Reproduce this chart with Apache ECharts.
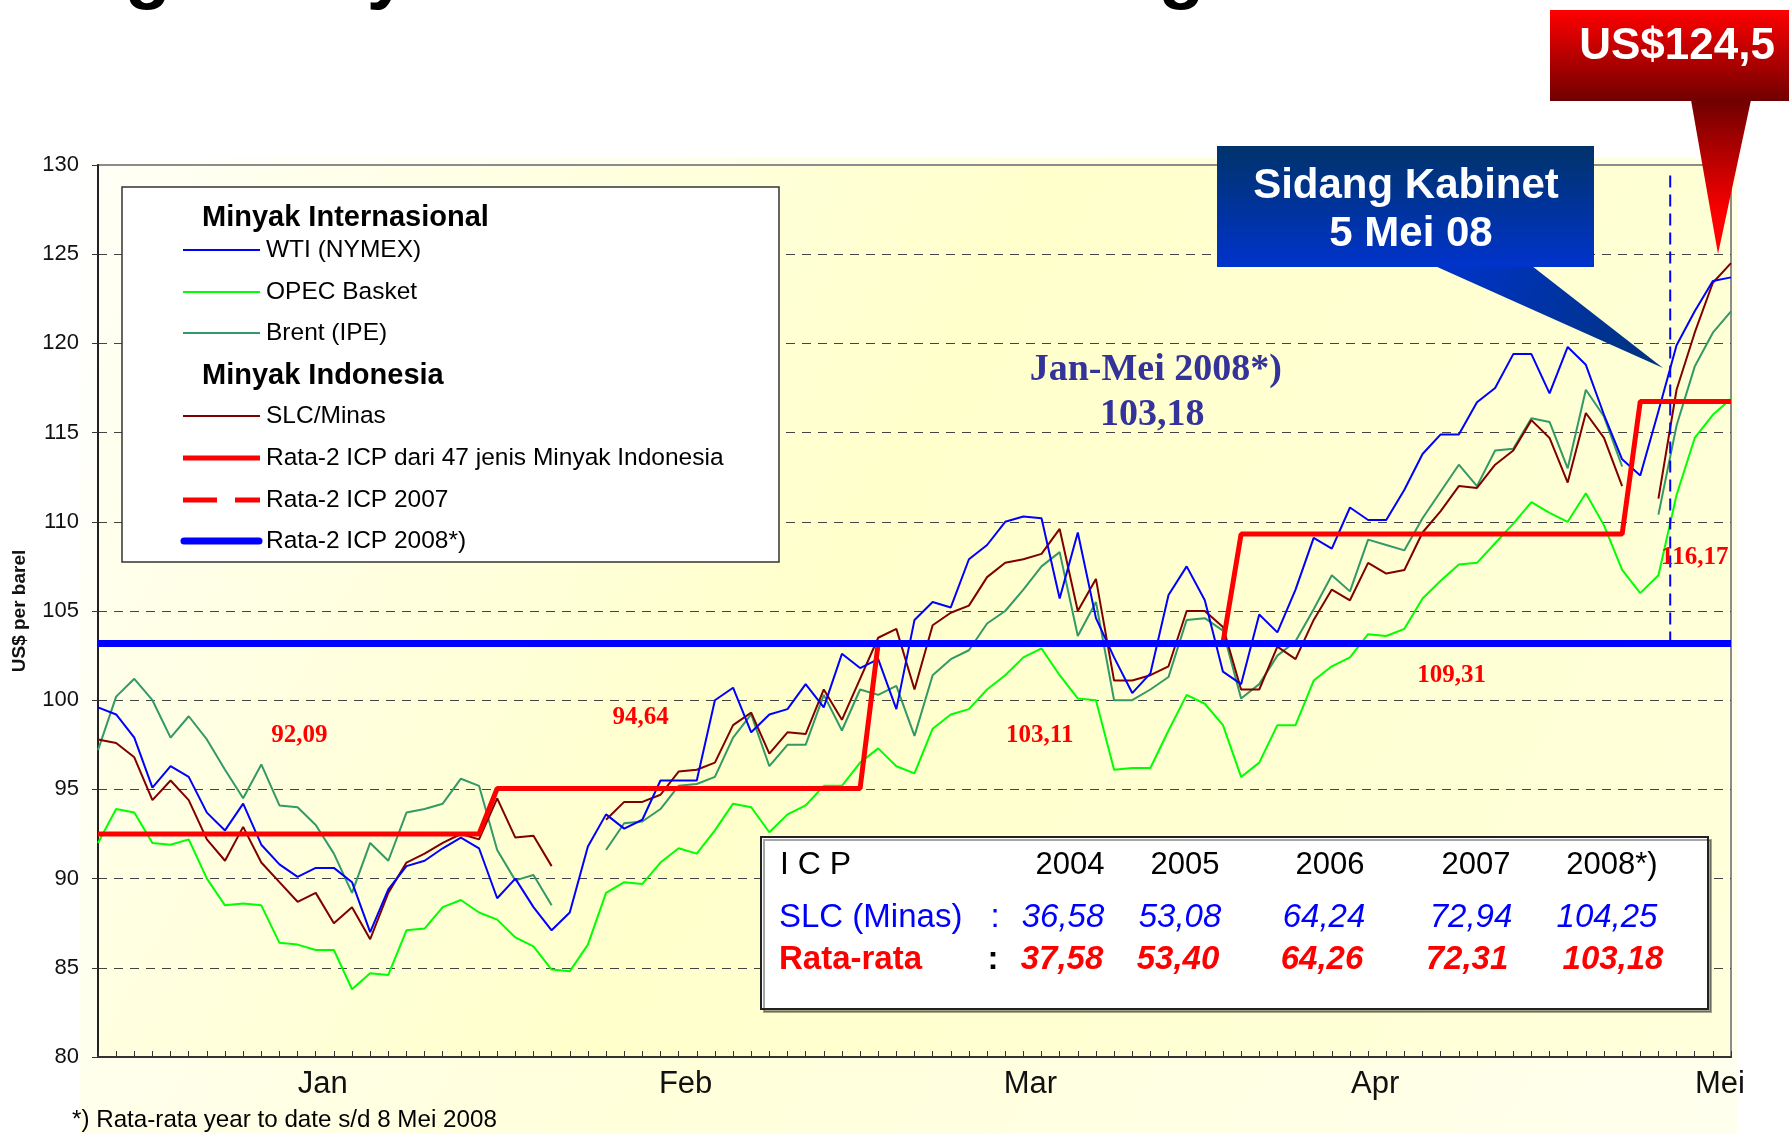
<!DOCTYPE html>
<html>
<head>
<meta charset="utf-8">
<title>Harga minyak dunia terus meningkat ini</title>
<script src="https://cdn.jsdelivr.net/npm/echarts@6/dist/echarts.min.js"></script>
<style>
html, body { margin: 0; padding: 0; background: #fff; }
#main { width: 1789px; height: 1134px; }
</style>
</head>
<body>
<div id="main"></div>
<script>
// harga harian per hari bursa, 2 Jan - 8 Mei 2008 (index 0..90)
var wti = [99.6, 99.2, 97.9, 95.1, 96.3, 95.7, 93.7, 92.7, 94.2, 91.9,
	90.8, 90.1, 90.6, 90.6, 89.8, 87.0, 89.4, 90.7, 91.0, 91.7,
	92.3, 91.7, 88.9, 90.0, 88.4, 87.1, 88.1, 91.8, 93.6, 92.8,
	93.3, 95.5, 95.5, 95.5, 100.0, 100.7, 98.2, 99.2, 99.5, 100.9,
	99.6, 102.6, 101.8, 102.3, 99.5, 104.5, 105.5, 105.2, 107.9, 108.7,
	110.0, 110.3, 110.2, 105.7, 109.4, 104.6, 102.4, 100.4, 101.5, 105.9,
	107.5, 105.6, 101.6, 100.9, 104.8, 103.8, 106.2, 109.1, 108.5, 110.8,
	110.1, 110.1, 111.8, 113.8, 114.9, 114.9, 116.7, 117.5, 119.4, 119.4,
	117.2, 119.8, 118.8, 116.0, 113.5, 112.6, 116.2, 119.9, 121.8, 123.5,
	123.7]
var opec = [92.0, 93.9, 93.7, 92.0, 91.9, 92.2, 90.0, 88.5, 88.6, 88.5,
	86.4, 86.3, 86.0, 86.0, 83.8, 84.7, 84.6, 87.1, 87.2, 88.4,
	88.8, 88.1, 87.7, 86.7, 86.2, 84.9, 84.8, 86.3, 89.2, 89.8,
	89.7, 90.9, 91.7, 91.4, 92.7, 94.2, 94.0, 92.6, 93.6, 94.1,
	95.2, 95.2, 96.5, 97.3, 96.3, 95.9, 98.4, 99.2, 99.5, 100.6,
	101.4, 102.4, 102.9, 101.4, 100.1, 100.0, 96.1, 96.2, 96.2, 98.3,
	100.3, 99.8, 98.6, 95.7, 96.5, 98.6, 98.6, 101.1, 101.9, 102.4,
	103.7, 103.6, 104.0, 105.7, 106.7, 107.6, 107.7, 108.8, 109.9, 111.1,
	110.5, 110.0, 111.6, 109.8, 107.3, 106.0, 107.0, 111.5, 114.7, 116.0,
	116.9]
var brent = [97.2, 100.2, 101.2, 100.0, 97.9, 99.1, 97.8, 96.1, 94.5, 96.4,
	94.1, 94.0, 93.0, 91.4, 89.2, 92.0, 91.0, 93.7, 93.9, 94.2,
	95.6, 95.2, 91.6, 89.9, 90.2, 88.5, null, null, 91.6, 93.1,
	93.2, 93.9, 95.2, 95.3, 95.7, 97.9, 99.2, 96.3, 97.5, 97.5,
	100.3, 98.3, 100.6, 100.3, 100.8, 98.0, 101.4, 102.3, 102.8, 104.3,
	105.0, 106.2, 107.5, 108.3, 103.6, 105.5, 100.0, 100.0, 100.6, 101.3,
	104.5, 104.6, 103.9, 100.1, 100.9, 102.5, 103.3, 105.1, 107.0, 106.1,
	109.0, 108.7, 108.4, 110.2, 111.7, 113.2, 112.0, 114.0, 114.1, 115.8,
	115.6, 113.0, 117.4, 115.9, 113.1, null, 110.4, 115.4, 118.7, 120.6,
	121.8]
var minas = [97.8, 97.6, 96.8, 94.4, 95.5, 94.4, 92.2, 91.0, 92.9, 90.9,
	89.8, 88.7, 89.2, 87.5, 88.4, 86.6, 89.2, 90.9, 91.4, 92.0,
	92.5, 92.2, 94.5, 92.3, 92.4, 90.7, null, null, 93.3, 94.3,
	94.3, 94.7, 96.0, 96.1, 96.5, 98.6, 99.3, 97.0, 98.2, 98.1,
	100.6, 98.9, 101.2, 103.5, 104.0, 100.6, 104.2, 104.9, 105.3, 106.9,
	107.7, 107.9, 108.2, 109.6, 105.0, 106.8, 101.1, 101.1, 101.4, 101.9,
	105.0, 105.0, 104.1, 100.6, 100.6, 103.0, 102.3, 104.5, 106.2, 105.6,
	107.7, 107.1, 107.3, 109.4, 110.6, 112.0, 111.9, 113.2, 114.0, 115.7,
	114.7, 112.2, 116.1, 114.7, 112.0, null, 111.3, 117.4, 120.6, 123.4,
	124.5]

// rata-rata ICP bulanan (hari, nilai)
var icpSteps = [[0, 92.5], [21, 92.5], [22, 95.05], [42, 95.05], [43, 103.2],
	[62, 103.2], [63, 109.31], [84, 109.31], [85, 116.75], [90, 116.75]]
var icpBulanan = ['92,09', '94,64', '103,11', '109,31', '116,17']
var icp2008 = 103.18
var sidangKabinet = 86.65

var bulan = ['Jan', 'Feb', 'Mar', 'Apr', 'Mei']
var bulanIdx = [12, 32, 51, 70, 89]

var tahun = ['2004', '2005', '2006', '2007', '2008*)']
var slcMinas = ['36,58', '53,08', '64,24', '72,94', '104,25']
var rataRata = ['37,58', '53,40', '64,26', '72,31', '103,18']

var FONT = '"Liberation Sans", Arial, sans-serif'
var SERIF = '"Liberation Serif", "Times New Roman", serif'

function pairs(arr) {
	return arr.map(function (v, i) { return [i, v] })
}

// posisi label harga bulanan (hari, US$)
var labelPos = [[11.1, 98.0], [29.9, 99.0], [51.9, 98.0], [74.6, 101.4], [88.0, 108.0]]

var LG = echarts.graphic.LinearGradient

function txt(x, y, s, size, color, extra) {
	var st = {
		text: s, fill: color, fontSize: size, fontFamily: FONT,
		align: 'left', verticalAlign: 'middle'
	}
	for (var k in extra) st[k] = extra[k]
	return { type: 'text', x: x, y: y, z: 110, silent: true, style: st }
}
function seg(x1, x2, y, color, w, dash) {
	return {
		type: 'line', z: 110, silent: true,
		shape: { x1: x1, y1: y, x2: x2, y2: y },
		style: { stroke: color, lineWidth: w, lineDash: dash || null, lineCap: w > 5 ? 'round' : 'butt' }
	}
}

var legendRows = [
	{ name: 'WTI (NYMEX)', color: '#0000FF', w: 2, y: 250 },
	{ name: 'OPEC Basket', color: '#00FF00', w: 2, y: 292 },
	{ name: 'Brent (IPE)', color: '#339966', w: 2, y: 333 },
	{ name: 'SLC/Minas', color: '#800000', w: 2, y: 416 },
	{ name: 'Rata-2 ICP dari 47 jenis Minyak Indonesia', color: '#FF0000', w: 5, y: 458 },
	{ name: 'Rata-2 ICP 2007', color: '#FF0000', w: 5, y: 500, dash: [34, 18] },
	{ name: 'Rata-2 ICP 2008*)', color: '#0000FF', w: 7, y: 541 }
]

var g = []
// latar area grafik
g.push({ type: 'rect', z: -10, silent: true, shape: { x: 80, y: 158, width: 1657, height: 976 },
	style: { fill: new LG(0, 0, 1, 1, [{ offset: 0, color: '#FFFFFF' }, { offset: 0.5, color: '#FFFFDA' }, { offset: 1, color: '#FFFFEE' }]) } })
g.push({ type: 'rect', z: -5, silent: true, shape: { x: 98, y: 165, width: 1633, height: 892 },
	style: { fill: new LG(0, 0, 1, 1, [{ offset: 0, color: '#FFFFF6' }, { offset: 0.45, color: '#FFFFCC' }, { offset: 1, color: '#FFFFDC' }]) } })

// judul (terpotong di atas)
g.push({ type: 'text', x: 0, y: -26, z: 110, silent: true, style: {
	text: 'Harga minyak dunia terus meningkat ini', fill: '#000', fontSize: 75, fontWeight: 'bold',
	fontFamily: FONT, verticalAlign: 'middle', textShadowColor: '#b4b4b4', textShadowOffsetX: 5, textShadowOffsetY: 7 } })

// legenda
g.push({ type: 'rect', z: 105, silent: true, shape: { x: 122, y: 187, width: 657, height: 375 },
	style: { fill: '#fff', stroke: '#333', lineWidth: 1.5 } })
g.push(txt(202, 218, 'Minyak Internasional', 29, '#000', { fontWeight: 'bold' }))
g.push(txt(202, 376, 'Minyak Indonesia', 29, '#000', { fontWeight: 'bold' }))
legendRows.forEach(function (r) {
	g.push(seg(r.w > 5 ? 184 : 183, r.w > 5 ? 259 : 260, r.y, r.color, r.w, r.dash))
	g.push(txt(266, r.y, r.name, 24.5, '#000'))
})

// tabel ICP
var colYear = [1070, 1185, 1330, 1476, 1612]
var colSlc = [1063, 1180, 1324, 1471, 1607]
var colRata = [1062, 1178, 1322, 1467, 1613]
g.push({ type: 'rect', z: 105, silent: true, shape: { x: 761, y: 837, width: 947, height: 172 },
	style: { fill: '#fff', stroke: '#222', lineWidth: 2, shadowColor: 'rgba(0,0,0,0.35)', shadowOffsetX: 3, shadowOffsetY: 3 } })
g.push(txt(780, 865, 'I C P', 32, '#000'))
g.push(txt(779, 918, 'SLC (Minas)', 33, '#0000FF'))
g.push(txt(995, 918, ':', 33, '#0000FF', { align: 'center' }))
g.push(txt(779, 960, 'Rata-rata', 33, '#FF0000', { fontWeight: 'bold' }))
g.push(txt(993, 960, ':', 33, '#000', { fontWeight: 'bold', align: 'center' }))
tahun.forEach(function (t, i) {
	g.push(txt(colYear[i], 865, t, 31, '#000', { align: 'center' }))
	g.push(txt(colSlc[i], 918, slcMinas[i], 33, '#0000FF', { align: 'center', fontStyle: 'italic' }))
	g.push(txt(colRata[i], 960, rataRata[i], 33, '#FF0000', { align: 'center', fontStyle: 'italic', fontWeight: 'bold' }))
})

// callout Sidang Kabinet
g.push({ type: 'polygon', z: 108, silent: true, shape: { points: [[1435, 266], [1532, 266], [1663, 368]] },
	style: { fill: new LG(0, 0, 1, 1, [{ offset: 0, color: '#0033CC' }, { offset: 1, color: '#00337A' }]) } })
g.push({ type: 'rect', z: 108, silent: true, shape: { x: 1217, y: 146, width: 377, height: 121 },
	style: { fill: new LG(0, 0, 0, 1, [{ offset: 0, color: '#00336A' }, { offset: 1, color: '#0033CC' }]) } })
g.push(txt(1406, 186, 'Sidang Kabinet', 42, '#fff', { fontWeight: 'bold', align: 'center' }))
g.push(txt(1411, 234, '5 Mei 08', 42, '#fff', { fontWeight: 'bold', align: 'center' }))

// callout harga tertinggi
g.push({ type: 'polygon', z: 108, silent: true, shape: { points: [[1691, 100], [1751, 100], [1718, 254]] },
	style: { fill: new LG(0, 0, 0, 1, [{ offset: 0, color: '#700000' }, { offset: 0.75, color: '#FF0000' }, { offset: 1, color: '#FF0000' }]) } })
g.push({ type: 'rect', z: 108, silent: true, shape: { x: 1550, y: 10, width: 239, height: 91 },
	style: { fill: new LG(0, 0, 0, 1, [{ offset: 0, color: '#FF0000' }, { offset: 1, color: '#700000' }]) } })
g.push(txt(1677, 47, 'US$124,5', 44, '#fff', { fontWeight: 'bold', align: 'center' }))

// catatan kaki
g.push(txt(72, 1120, '*) Rata-rata year to date s/d 8 Mei 2008', 24.2, '#000'))

function thin(name, data, color) {
	return {
		name: name, type: 'line', data: pairs(data), symbol: 'none', connectNulls: false,
		lineStyle: { color: color, width: 2 }, z: 3, silent: true
	}
}

var option = {
	backgroundColor: '#fff',
	animation: false,
	grid: { left: 98, right: 58, top: 165, bottom: 77, show: true, borderColor: '#8c8c8c', borderWidth: 2 },
	xAxis: {
		type: 'value', min: 0, max: 90, interval: 1,
		axisLine: { lineStyle: { color: '#333', width: 2 } },
		axisTick: { inside: true, length: 6, lineStyle: { color: '#333', width: 1 } },
		splitLine: { show: false },
		axisLabel: {
			margin: 12, fontSize: 31, color: '#111', fontFamily: FONT, padding: [0, 0, 0, 14],
			formatter: function (v) {
				var k = bulanIdx.indexOf(v)
				return k >= 0 ? bulan[k] : ''
			}
		}
	},
	yAxis: {
		type: 'value', min: 80, max: 130, interval: 5,
		name: 'US$ per barel', nameLocation: 'middle', nameGap: 69, nameRotate: 90,
		nameTextStyle: { fontSize: 19, fontWeight: 'bold', color: '#111', fontFamily: FONT },
		axisLine: { show: true, lineStyle: { color: '#222', width: 2 } },
		axisTick: { show: true, length: 6, lineStyle: { color: '#333' } },
		axisLabel: { margin: 19, fontSize: 22, color: '#111', fontFamily: FONT },
		splitLine: { show: true, showMaxLine: false, lineStyle: { color: '#444', width: 1, type: [9, 7] } }
	},
	graphic: { elements: g },
	series: [
		thin('OPEC Basket', opec, '#00FF00'),
		thin('Brent (IPE)', brent, '#339966'),
		thin('SLC/Minas', minas, '#800000'),
		thin('WTI (NYMEX)', wti, '#0000FF'),
		{
			name: 'Rata-2 ICP', type: 'line', data: icpSteps, symbol: 'none', z: 4, silent: true,
			lineStyle: { color: '#FF0000', width: 5 }
		},
		{
			name: 'Rata-2 ICP 2008*)', type: 'line', data: [[0, icp2008], [90, icp2008]], symbol: 'none', z: 5, silent: true,
			lineStyle: { color: '#0000FF', width: 7 }
		},
		{
			name: 'Sidang Kabinet', type: 'line', data: [[sidangKabinet, icp2008], [sidangKabinet, 129.45]], symbol: 'none', z: 5, silent: true,
			lineStyle: { color: '#0000FF', width: 2, type: [12, 7] }
		},
		{
			name: 'label ICP', type: 'scatter', symbolSize: 0, z: 6, silent: true,
			itemStyle: { color: 'transparent', opacity: 1 },
			data: icpBulanan.map(function (s, i) { return { name: s, value: labelPos[i] } }),
			label: {
				show: true, position: 'inside', formatter: '{b}', opacity: 1, textBorderWidth: 0,
				fontFamily: SERIF, fontWeight: 'bold', fontSize: 25, color: '#FF0000'
			}
		},
		{
			name: 'label 2008', type: 'scatter', symbolSize: 0, z: 6, silent: true,
			itemStyle: { color: 'transparent', opacity: 1 },
			data: [{ name: 'Jan-Mei 2008*)', value: [58.3, 118.5] }, { name: '103,18', value: [58.1, 116.0] }],
			label: {
				show: true, position: 'inside', formatter: '{b}', opacity: 1, textBorderWidth: 0,
				fontFamily: SERIF, fontWeight: 'bold', fontSize: 38, color: '#333399'
			}
		}
	]
}

var chart = echarts.init(document.getElementById('main'))
chart.setOption(option)
</script>
</body>
</html>
